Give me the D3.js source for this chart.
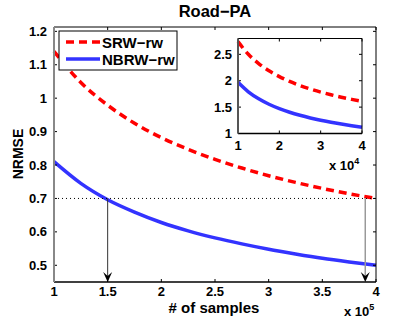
<!DOCTYPE html>
<html>
<head>
<meta charset="utf-8">
<script src="https://cdn.jsdelivr.net/npm/d3@7"></script>
<style>
  body { margin: 0; background: #fff; }
  text { font-family: "Liberation Sans", Arial, sans-serif; font-weight: bold; }
</style>
</head>
<body>
<div id="chart"></div>
<script>
// samples (x 10^5 for main, x 10^4 for inset)
const samples = [1, 1.25, 1.5, 1.75, 2, 2.25, 2.5, 2.75, 3, 3.25, 3.5, 3.75, 4];
const srwMain = [1.14, 1.047, 0.979, 0.925, 0.882, 0.847, 0.817, 0.791, 0.768, 0.748, 0.730, 0.714, 0.70];
const nbrwMain = [0.81, 0.745, 0.696, 0.659, 0.628, 0.603, 0.582, 0.564, 0.548, 0.534, 0.521, 0.510, 0.50];
const srwInset = [2.74, 2.501, 2.325, 2.188, 2.078, 1.987, 1.909, 1.843, 1.785, 1.734, 1.688, 1.647, 1.61];
const nbrwInset = [1.97, 1.790, 1.658, 1.555, 1.472, 1.403, 1.345, 1.295, 1.252, 1.213, 1.179, 1.148, 1.12];

const xTicks = [1, 1.5, 2, 2.5, 3, 3.5, 4];
const yTicks = [0.5, 0.6, 0.7, 0.8, 0.9, 1, 1.1, 1.2];
const insetXTicks = [1, 2, 3, 4];
const insetYTicks = [1, 1.5, 2, 2.5];
const target = 0.7;
const arrowX = [1.5, 3.9];

const W = 415, H = 319;
const svg = d3.select("#chart").append("svg").attr("width", W).attr("height", H);

const x = d3.scaleLinear().domain([1, 4]).range([54, 376]);
const y = d3.scaleLinear().domain([0.45, 1.213]).range([282, 27]);

const RED = "#ff0000", BLUE = "#3333ff";

function drawAxes(g, xs, ys, xt, yt, leftColor) {
  const [x0, x1] = xs.range(), [y0, y1] = ys.range();
  // ticks (inward, all four sides)
  xt.forEach(t => {
    g.append("line").attr("x1", xs(t)).attr("x2", xs(t)).attr("y1", y0).attr("y2", y0 - 3).attr("stroke", "#000");
    g.append("line").attr("x1", xs(t)).attr("x2", xs(t)).attr("y1", y1).attr("y2", y1 + 3).attr("stroke", "#000");
  });
  yt.forEach(t => {
    g.append("line").attr("x1", x0).attr("x2", x0 + 3).attr("y1", ys(t)).attr("y2", ys(t)).attr("stroke", "#000");
    g.append("line").attr("x1", x1).attr("x2", x1 - 3).attr("y1", ys(t)).attr("y2", ys(t)).attr("stroke", "#000");
  });
  g.append("line").attr("x1", x0).attr("x2", x1).attr("y1", y1).attr("y2", y1).attr("stroke", "#000");
  g.append("line").attr("x1", x1).attr("x2", x1).attr("y1", y1).attr("y2", y0).attr("stroke", "#000");
  g.append("line").attr("x1", x0).attr("x2", x1).attr("y1", y0).attr("y2", y0).attr("stroke", "#000").attr("stroke-width", 1.5);
  g.append("line").attr("x1", x0).attr("x2", x0).attr("y1", y1).attr("y2", y0).attr("stroke", leftColor).attr("stroke-width", 2);
}

const line = (xs, ys) => d3.line().x((d, i) => xs(samples[i])).y(d => ys(d)).curve(d3.curveMonotoneX);

// main plot
const main = svg.append("g");
main.append("rect").attr("x", 54).attr("y", 27).attr("width", 322).attr("height", 255).attr("fill", "#fff");

main.append("path").datum(srwMain).attr("d", line(x, y))
  .attr("fill", "none").attr("stroke", RED).attr("stroke-width", 3.5).attr("stroke-dasharray", "8,5");
main.append("path").datum(nbrwMain).attr("d", line(x, y))
  .attr("fill", "none").attr("stroke", BLUE).attr("stroke-width", 3.5);

// dotted reference line at 0.7
main.append("line").attr("x1", x(1)).attr("x2", x(4)).attr("y1", y(target)).attr("y2", y(target))
  .attr("stroke", "#000").attr("stroke-width", 1).attr("stroke-dasharray", "1,3");

// arrows
arrowX.forEach((a, i) => {
  main.append("line").attr("x1", x(a)).attr("x2", x(a)).attr("y1", y(target)).attr("y2", 276)
    .attr("stroke", i === 0 ? "#333" : "#999").attr("stroke-width", i === 0 ? 1 : 1.5);
  main.append("path").attr("transform", `translate(${x(a)},282)`)
    .attr("d", "M0,0 L-4.5,-10 L0,-6 L4.5,-10 Z").attr("fill", "#000");
});

drawAxes(main, x, y, xTicks, yTicks, "#888");

main.selectAll(".xl").data(xTicks).enter().append("text")
  .attr("x", d => x(d)).attr("y", 296).attr("text-anchor", "middle").attr("font-size", 13)
  .text(d => d);
main.selectAll(".yl").data(yTicks).enter().append("text")
  .attr("x", 47).attr("y", d => y(d) + 4.5).attr("text-anchor", "end").attr("font-size", 13)
  .text(d => d);

// legend
const leg = svg.append("g");
leg.append("rect").attr("x", 59).attr("y", 31).attr("width", 118).attr("height", 39)
  .attr("fill", "#fff").attr("stroke", "#000").attr("stroke-width", 1);
leg.append("line").attr("x1", 66).attr("x2", 100).attr("y1", 42).attr("y2", 42)
  .attr("stroke", RED).attr("stroke-width", 3.5).attr("stroke-dasharray", "8,5");
leg.append("line").attr("x1", 66).attr("x2", 100).attr("y1", 59).attr("y2", 59)
  .attr("stroke", BLUE).attr("stroke-width", 3.5);
leg.append("text").attr("x", 102).attr("y", 47.5).attr("font-size", 15).text("SRW\u2212rw");
leg.append("text").attr("x", 102).attr("y", 64.5).attr("font-size", 15).text("NBRW\u2212rw");

// inset
const xi = d3.scaleLinear().domain([1, 4]).range([238, 362]);
const yi = d3.scaleLinear().domain([1, 2.8]).range([133.5, 38.5]);
const inset = svg.append("g");
inset.append("rect").attr("x", 238).attr("y", 38.5).attr("width", 124).attr("height", 95).attr("fill", "#fff");
inset.append("path").datum(srwInset).attr("d", line(xi, yi))
  .attr("fill", "none").attr("stroke", RED).attr("stroke-width", 3.5).attr("stroke-dasharray", "8,5");
inset.append("path").datum(nbrwInset).attr("d", line(xi, yi))
  .attr("fill", "none").attr("stroke", BLUE).attr("stroke-width", 3.5);
drawAxes(inset, xi, yi, insetXTicks, insetYTicks, "#555");
inset.selectAll(".xl").data(insetXTicks).enter().append("text")
  .attr("x", d => xi(d)).attr("y", 150).attr("text-anchor", "middle").attr("font-size", 13)
  .text(d => d);
inset.selectAll(".yl").data(insetYTicks).enter().append("text")
  .attr("x", 232).attr("y", d => yi(d) + 4.5).attr("text-anchor", "end").attr("font-size", 13)
  .text(d => d);
const e4 = inset.append("text").attr("x", 329).attr("y", 170).attr("font-size", 13);
e4.append("tspan").text("x 10");
e4.append("tspan").attr("dy", -6).attr("font-size", 9).text("4");

// titles
svg.append("text").attr("x", 215).attr("y", 17).attr("text-anchor", "middle").attr("font-size", 16.5).text("Road\u2212PA");
svg.append("text").attr("x", 214).attr("y", 313).attr("text-anchor", "middle").attr("font-size", 15).text("# of samples");
svg.append("text").attr("transform", "translate(23,154) rotate(-90)").attr("text-anchor", "middle")
  .attr("font-size", 14).text("NRMSE");
const e5 = svg.append("text").attr("x", 344).attr("y", 316).attr("font-size", 13);
e5.append("tspan").text("x 10");
e5.append("tspan").attr("dy", -6).attr("font-size", 9).text("5");
</script>
</body>
</html>
